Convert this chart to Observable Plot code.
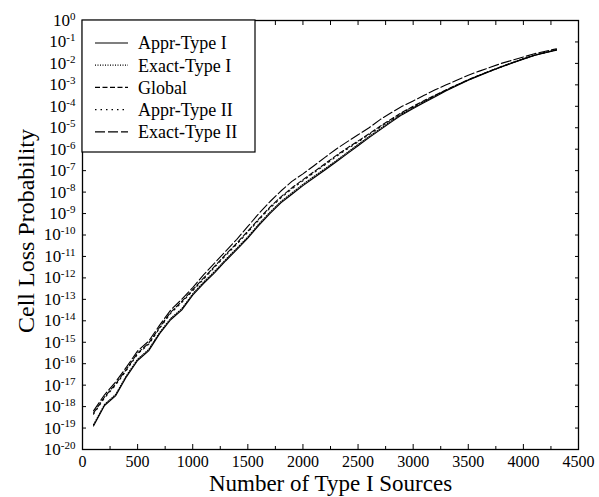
<!DOCTYPE html>
<html>
<head>
<meta charset="utf-8">
<script src="https://cdn.jsdelivr.net/npm/d3@7"></script>
<script src="https://cdn.jsdelivr.net/npm/@observablehq/plot@0.6"></script>
<style>
  html, body { margin: 0; padding: 0; background: white; }
  #chart { width: 599px; height: 497px; }
</style>
</head>
<body>
<div id="chart"></div>
<script>
// Number of Type I sources
const xs = [100,200,300,400,500,600,700,800,900,1000,
  1100,1200,1300,1400,1500,1600,1700,1800,1900,2000,
  2100,2200,2300,2400,2500,2600,2700,2800,2900,3000,
  3100,3200,3300,3400,3500,3600,3700,3800,3900,4000,
  4100,4200,4300];

// log10 of the cell loss probability
const apprType1 = [-18.9,-17.95,-17.5,-16.6,-15.85,-15.4,-14.6,-13.95,-13.5,-12.8,
  -12.25,-11.75,-11.2,-10.68,-10.15,-9.55,-9.0,-8.5,-8.1,-7.7,
  -7.33,-6.97,-6.6,-6.22,-5.84,-5.46,-5.1,-4.74,-4.39,-4.1,
  -3.82,-3.55,-3.28,-3.03,-2.78,-2.57,-2.37,-2.17,-1.98,-1.8,
  -1.63,-1.5,-1.38];
const exactType1 = [-18.84,-17.9,-17.44,-16.54,-15.79,-15.34,-14.54,-13.89,-13.44,-12.74,
  -12.19,-11.69,-11.14,-10.62,-10.09,-9.49,-8.94,-8.44,-8.04,-7.64,
  -7.27,-6.91,-6.54,-6.16,-5.78,-5.41,-5.05,-4.69,-4.35,-4.06,
  -3.78,-3.51,-3.25,-3.0,-2.76,-2.55,-2.35,-2.15,-1.96,-1.78,
  -1.61,-1.48,-1.36];
const global = [-18.3,-17.55,-16.95,-16.25,-15.5,-15.05,-14.3,-13.6,-13.1,-12.55,
  -12.0,-11.45,-10.9,-10.38,-9.82,-9.25,-8.7,-8.22,-7.8,-7.42,
  -7.05,-6.68,-6.3,-5.95,-5.62,-5.28,-4.93,-4.6,-4.28,-4.0,
  -3.73,-3.48,-3.23,-2.99,-2.76,-2.55,-2.35,-2.15,-1.97,-1.79,
  -1.62,-1.49,-1.37];
const apprType2 = [-18.35,-17.6,-17.0,-16.3,-15.55,-15.1,-14.35,-13.65,-13.15,-12.6,
  -12.05,-11.5,-10.95,-10.43,-9.87,-9.3,-8.75,-8.27,-7.85,-7.47,
  -7.1,-6.73,-6.35,-6.0,-5.66,-5.32,-4.97,-4.64,-4.31,-4.03,
  -3.76,-3.5,-3.25,-3.01,-2.77,-2.56,-2.36,-2.16,-1.97,-1.79,
  -1.62,-1.49,-1.37];
const exactType2 = [-18.2,-17.45,-16.85,-16.15,-15.4,-14.95,-14.2,-13.5,-13.0,-12.45,
  -11.85,-11.3,-10.75,-10.2,-9.6,-9.0,-8.45,-7.95,-7.5,-7.15,
  -6.77,-6.38,-6.0,-5.66,-5.33,-5.0,-4.62,-4.3,-4.0,-3.75,
  -3.49,-3.23,-3.0,-2.77,-2.55,-2.36,-2.18,-2.0,-1.85,-1.7,
  -1.55,-1.43,-1.32];

const seriesNames = ["Appr-Type I","Exact-Type I","Global","Appr-Type II","Exact-Type II"];
const seriesValues = [apprType1, exactType1, global, apprType2, exactType2];
const seriesDash = ["none", "1,1.5", "5,2.5", "1.5,4", "10,3"];

const xTickLabels = [0,500,1000,1500,2000,2500,3000,3500,4000,4500];
const xMinorTicks = [250,750,1250,1750,2250,2750,3250,3750,4250];
const yExponents = [0,-1,-2,-3,-4,-5,-6,-7,-8,-9,-10,-11,-12,-13,-14,-15,-16,-17,-18,-19,-20];

const xTitle = "Number of Type I Sources";
const yTitle = "Cell Loss Probability";

// build table
const rows = [];
seriesNames.forEach((name, i) => {
  xs.forEach((x, j) => rows.push({series: name, x, p: Math.pow(10, seriesValues[i][j])}));
});
const yTicks = yExponents.map(e => Math.pow(10, e));

const font = "Liberation Serif, Times New Roman, serif";

const lineMarks = seriesNames.map((name, i) =>
  Plot.line(rows.filter(r => r.series === name), {
    x: "x", y: "p", stroke: "black", strokeWidth: 1.1,
    strokeDasharray: seriesDash[i] === "none" ? null : seriesDash[i]
  })
);

const chart = Plot.plot({
  width: 599,
  height: 497,
  marginLeft: 82,
  marginRight: 21,
  marginTop: 20,
  marginBottom: 48,
  style: {fontFamily: font, fontSize: "16px", color: "black", background: "white"},
  x: {domain: [0, 4500]},
  y: {type: "log", domain: [1e-20, 1]},
  marks: [
    Plot.frame({stroke: "black", strokeWidth: 1.3}),
    Plot.axisX({ticks: xTickLabels, tickSize: -5, tickPadding: 11, tickFormat: d => String(d), label: null}),
    Plot.axisX({ticks: xMinorTicks, tickSize: -3, tickFormat: () => "", label: null}),
    Plot.axisX({anchor: "top", ticks: xTickLabels.concat(xMinorTicks), tickSize: -4, tickFormat: () => "", label: null}),
    Plot.axisY({ticks: yTicks, tickSize: -4, tickPadding: 11, tickFormat: d => "10^" + Math.round(Math.log10(d)), label: null, fontSize: 17}),
    Plot.axisY({anchor: "right", ticks: yTicks, tickSize: -4, tickFormat: () => "", label: null}),
    ...lineMarks,
    Plot.text([xTitle], {frameAnchor: "bottom", lineAnchor: "middle", textAnchor: "middle", dy: 34, text: d => d, fontSize: 23, fill: "black"}),
    Plot.text([yTitle], {frameAnchor: "left", lineAnchor: "middle", textAnchor: "middle", dx: -56, dy: -4, rotate: -90, text: d => d, fontSize: 24, fill: "black"})
  ]
});

// superscript exponents on the y tick labels
d3.select(chart).selectAll('g[aria-label="y-axis tick label"] text').each(function() {
  const t = this.textContent;
  if (!t.startsWith("10^")) return;
  const e = t.slice(3);
  this.textContent = "";
  const sel = d3.select(this);
  sel.append("tspan").text("10");
  sel.append("tspan").attr("dy", "-0.55em").attr("font-size", "11px").text(e);
});

// legend box inside the plot, top-left
const svg = d3.select(chart);
const lg = svg.append("g").style("font-family", font).style("font-size", "18px").attr("text-anchor", "start");
lg.append("rect").attr("x", 82).attr("y", 20).attr("width", 173).attr("height", 132)
  .attr("fill", "white").attr("stroke", "black").attr("stroke-width", 1.2);
seriesNames.forEach((name, i) => {
  const cy = 43 + i * 22.2;
  lg.append("line").attr("x1", 95).attr("x2", 128).attr("y1", cy).attr("y2", cy)
    .attr("stroke", "black").attr("stroke-width", 1.2)
    .attr("stroke-dasharray", seriesDash[i] === "none" ? null : seriesDash[i]);
  lg.append("text").attr("x", 138).attr("y", cy).attr("dy", "0.35em")
    .style("text-anchor", "start").attr("fill", "black").text(name);
});

document.getElementById("chart").appendChild(chart);
</script>
</body>
</html>
